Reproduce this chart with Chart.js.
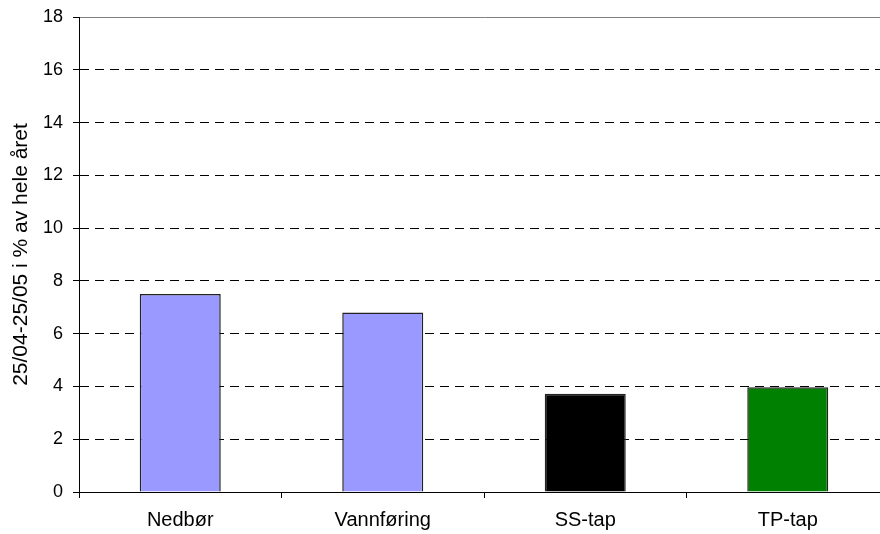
<!DOCTYPE html>
<html>
<head>
<meta charset="utf-8">
<script src="https://cdn.jsdelivr.net/npm/chart.js@4"></script>
<style>
html,body{margin:0;padding:0;background:#fff;overflow:hidden;width:880px;height:534px;}
#wrap{position:absolute;left:0;top:0;width:890px;height:534px;}
</style>
</head>
<body>
<div id="wrap"><canvas id="c" width="890" height="534"></canvas></div>
<script>
const categories = ["Nedbør", "Vannføring", "SS-tap", "TP-tap"];
const values = [7.5, 6.8, 3.72, 3.97];
const barColors = ["#9999FF", "#9999FF", "#000000", "#008000"];
const yTicks = [0, 2, 4, 6, 8, 10, 12, 14, 16, 18];
const yTitle = "25/04-25/05 i % av hele året";

const ctx = document.getElementById('c').getContext('2d');
new Chart(ctx, {
  type: 'bar',
  data: {
    labels: categories,
    datasets: [{
      data: values,
      backgroundColor: barColors,
      borderColor: '#222',
      borderWidth: 1.5,
      categoryPercentage: 1,
      barPercentage: 0.4
    }]
  },
  options: {
    responsive: false,
    animation: false,
    devicePixelRatio: 1,
    layout: { padding: { top: 17, right: 1, left: 0, bottom: 0 } },
    plugins: { legend: { display: false }, tooltip: { enabled: false } },
    scales: {
      x: {
        offset: true,
        grid: { offset: true, drawOnChartArea: false, drawTicks: true, tickLength: 6, color: '#000', lineWidth: 1 },
        border: { display: true, color: '#000', width: 1 },
        ticks: { color: '#000', font: { family: 'Liberation Sans, Arial', size: 20 }, padding: 10, maxRotation: 0 },
        afterFit: s => { s.height = 42; s.paddingLeft = 0; s.paddingRight = 0; }
      },
      y: {
        min: 0, max: 18,
        afterBuildTicks: s => { s.ticks = yTicks.map(v => ({ value: v })); },
        grid: {
          color: c => (c.tick && c.tick.value === 18) ? '#808080' : '#000',
          lineWidth: 1, tickLength: 6, tickColor: '#000', drawTicks: true
        },
        border: { display: true, color: '#000', width: 1,
          dash: c => (c.tick && (c.tick.value === 18 || c.tick.value === 0)) ? [] : [9, 6] },
        ticks: { color: '#000', font: { family: 'Liberation Sans, Arial', size: 18 }, padding: 10 },
        title: { display: true, text: yTitle, color: '#000', font: { family: 'Liberation Sans, Arial', size: 21 }, padding: { top: 9, bottom: 0 } },
        afterFit: s => { s.width = 79; s.paddingTop = 0; s.paddingBottom = 0; }
      }
    }
  }
});
</script>
</body>
</html>
